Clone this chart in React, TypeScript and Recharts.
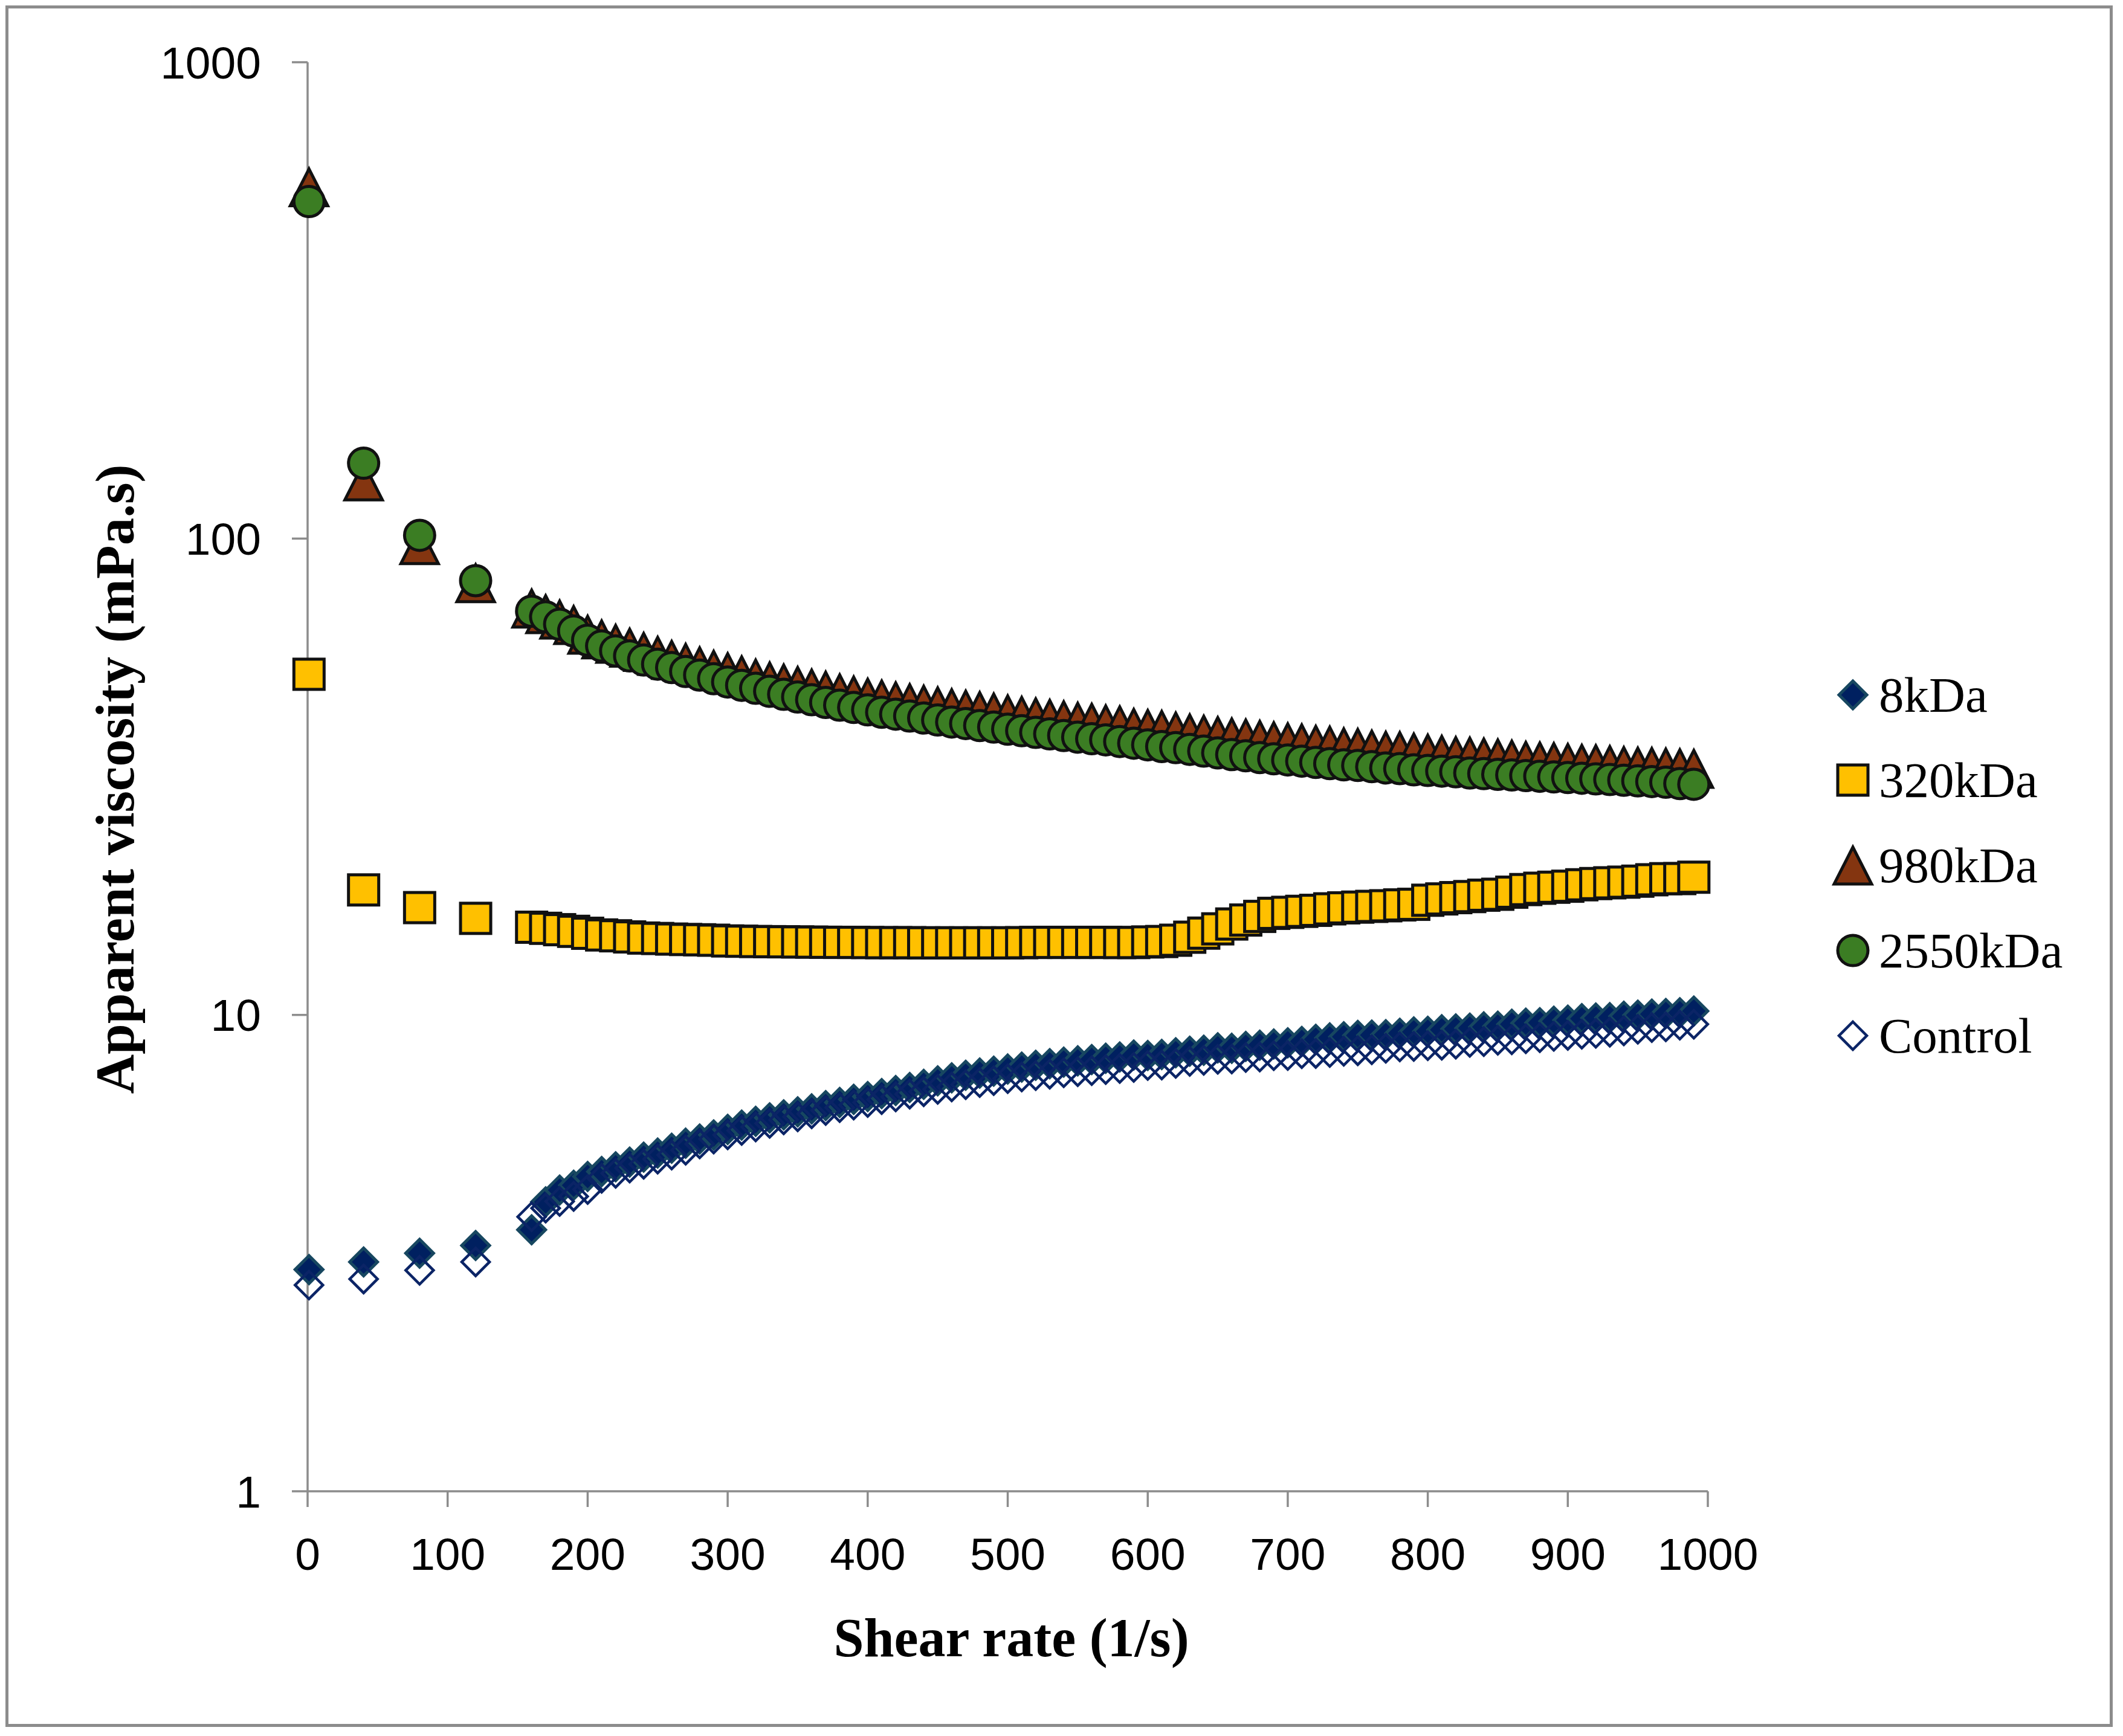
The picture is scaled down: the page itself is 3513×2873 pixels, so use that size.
import React from "react";
import { ScatterChart, Scatter, XAxis, YAxis, Label } from "recharts";

// shear rate (1/s) at which every series was sampled
const shearRate = [
  1, 40, 80, 120,
  160, 170, 180, 190, 200, 210, 220, 230, 240, 250,
  260, 270, 280, 290, 300, 310, 320, 330, 340, 350,
  360, 370, 380, 390, 400, 410, 420, 430, 440, 450,
  460, 470, 480, 490, 500, 510, 520, 530, 540, 550,
  560, 570, 580, 590, 600, 610, 620, 630, 640, 650,
  660, 670, 680, 690, 700, 710, 720, 730, 740, 750,
  760, 770, 780, 790, 800, 810, 820, 830, 840, 850,
  860, 870, 880, 890, 900, 910, 920, 930, 940, 950,
  960, 970, 980, 990,
];

// apparent viscosity (mPa.s)
const visc8kDa = [
  2.92, 3.03, 3.16, 3.28,
  3.54, 4.05, 4.29, 4.39, 4.58, 4.69, 4.8, 4.91, 5.03, 5.13,
  5.25, 5.38, 5.49, 5.6, 5.75, 5.87, 5.98, 6.08, 6.17, 6.26,
  6.35, 6.45, 6.55, 6.65, 6.74, 6.84, 6.94, 7.04, 7.15, 7.27,
  7.38, 7.47, 7.55, 7.62, 7.7, 7.77, 7.84, 7.9, 7.96, 8.01,
  8.06, 8.11, 8.16, 8.24, 8.22, 8.26, 8.33, 8.39, 8.43, 8.53,
  8.51, 8.59, 8.64, 8.69, 8.74, 8.8, 8.89, 8.95, 9.0, 9.06,
  9.07, 9.09, 9.15, 9.21, 9.24, 9.31, 9.35, 9.38, 9.44, 9.47,
  9.56, 9.61, 9.63, 9.7, 9.75, 9.82, 9.85, 9.87, 9.94, 9.99,
  10.04, 10.07, 10.11, 10.19,
];

const visc320kDa = [
  51.9, 18.3, 16.8, 15.95,
  15.28, 15.2, 15.1, 14.98, 14.84, 14.72, 14.66, 14.58, 14.5, 14.47,
  14.43, 14.4, 14.38, 14.35, 14.3, 14.28, 14.26, 14.25, 14.24, 14.23,
  14.22, 14.21, 14.2, 14.2, 14.19, 14.18, 14.18, 14.18, 14.17, 14.17,
  14.17, 14.17, 14.17, 14.17, 14.17, 14.18, 14.2, 14.2, 14.2, 14.2,
  14.2, 14.2, 14.19, 14.19, 14.23, 14.26, 14.35, 14.56, 14.85, 15.16,
  15.52, 15.82, 16.1, 16.34, 16.42, 16.5, 16.58, 16.7, 16.78, 16.84,
  16.9, 16.95, 17.02, 17.07, 17.41, 17.52, 17.63, 17.72, 17.84, 17.92,
  18.1, 18.33, 18.45, 18.54, 18.63, 18.76, 18.87, 18.94, 19.0, 19.09,
  19.22, 19.32, 19.33, 19.46,
];

const visc980kDa = [
  547, 132, 97, 80.7,
  71.4, 69.5, 67.7, 65.9, 62.9, 61.5, 60.2, 59.1, 57.9, 56.8,
  55.7, 54.9, 54.0, 53.1, 52.5, 51.7, 50.9, 50.2, 49.7, 49.1,
  48.5, 48.0, 47.4, 46.9, 46.4, 46.0, 45.6, 45.2, 44.85, 44.5,
  44.1, 43.8, 43.5, 43.2, 42.8, 42.5, 42.2, 41.9, 41.6, 41.3,
  41.1, 40.8, 40.6, 40.1, 39.9, 39.7, 39.4, 39.05, 38.8, 38.55,
  38.3, 38.1, 37.85, 37.6, 37.4, 37.2, 36.95, 36.8, 36.5, 36.4,
  36.1, 35.9, 35.85, 35.6, 35.4, 35.2, 35.0, 34.9, 34.75, 34.6,
  34.4, 34.2, 34.1, 34.0, 33.85, 33.7, 33.65, 33.5, 33.35, 33.25,
  33.2, 33.1, 33.0, 32.9,
];

const visc2550kDa = [
  510, 144, 101.6, 81.6,
  70.4, 68.5, 66.1, 64.0, 61.2, 59.5, 58.1, 56.7, 55.6, 54.5,
  53.6, 52.6, 51.7, 50.8, 50.0, 49.2, 48.5, 47.8, 47.1, 46.5,
  45.9, 45.3, 44.7, 44.2, 43.7, 43.2, 42.8, 42.4, 42.0, 41.6,
  41.2, 40.9, 40.5, 40.2, 39.8, 39.5, 39.2, 38.9, 38.6, 38.3,
  38.0, 37.8, 37.5, 37.2, 36.9, 36.6, 36.4, 36.1, 35.8, 35.5,
  35.2, 35.0, 34.7, 34.5, 34.3, 34.1, 33.9, 33.7, 33.5, 33.4,
  33.2, 33.0, 32.9, 32.7, 32.6, 32.5, 32.4, 32.2, 32.1, 32.0,
  31.9, 31.8, 31.7, 31.6, 31.5, 31.4, 31.3, 31.2, 31.1, 31.0,
  30.9, 30.8, 30.6, 30.5,
];

const viscControl = [
  2.71, 2.79, 2.91, 3.03,
  3.77, 3.93, 4.06, 4.16, 4.3, 4.54, 4.65, 4.77, 4.86, 4.98,
  5.08, 5.2, 5.36, 5.49, 5.6, 5.72, 5.82, 5.92, 6.02, 6.11,
  6.2, 6.3, 6.39, 6.47, 6.55, 6.64, 6.73, 6.82, 6.9, 6.98,
  7.06, 7.14, 7.21, 7.28, 7.35, 7.41, 7.46, 7.51, 7.56, 7.6,
  7.64, 7.68, 7.72, 7.76, 7.83, 7.85, 7.91, 7.99, 8.03, 8.07,
  8.08, 8.14, 8.16, 8.21, 8.22, 8.29, 8.3, 8.34, 8.39, 8.41,
  8.45, 8.51, 8.57, 8.59, 8.62, 8.64, 8.68, 8.76, 8.79, 8.85,
  8.87, 8.91, 8.96, 9.02, 9.06, 9.11, 9.15, 9.2, 9.26, 9.33,
  9.41, 9.44, 9.52, 9.56,
];

const xTicks = [0, 100, 200, 300, 400, 500, 600, 700, 800, 900, 1000];
const yTicks = [1, 10, 100, 1000];

const W = 3497;
const H = 2857;
const AXIS = "#8c8c8c";
const SANS = "'Liberation Sans', Arial, sans-serif";
const SERIF = "'Liberation Serif', 'Times New Roman', serif";

const toPoints = (ys: number[]) => shearRate.map((x, i) => ({ x, y: ys[i] }));

type MarkProps = { cx: number; cy: number };

const FilledDiamond = ({ cx, cy }: MarkProps) => (
  <path
    d={`M${cx},${cy - 23}L${cx + 23},${cy}L${cx},${cy + 23}L${cx - 23},${cy}Z`}
    fill="#002060"
    stroke="#174760"
    strokeWidth={5}
  />
);

const OpenDiamond = ({ cx, cy }: MarkProps) => (
  <path
    d={`M${cx},${cy - 23}L${cx + 23},${cy}L${cx},${cy + 23}L${cx - 23},${cy}Z`}
    fill="none"
    stroke="#0b2466"
    strokeWidth={4.5}
  />
);

const Square = ({ cx, cy }: MarkProps) => (
  <rect x={cx - 25} y={cy - 25} width={50} height={50} fill="#ffc000" stroke="#111" strokeWidth={5} />
);

const Triangle = ({ cx, cy }: MarkProps) => (
  <path
    d={`M${cx},${cy - 30}L${cx + 31},${cy + 31}L${cx - 31},${cy + 31}Z`}
    fill="#843510"
    stroke="#111"
    strokeWidth={5}
  />
);

const Circle = ({ cx, cy }: MarkProps) => (
  <circle cx={cx} cy={cy} r={25} fill="#3b7d23" stroke="#111" strokeWidth={5} />
);

const SERIES = [
  { name: "8kDa", values: visc8kDa, Mark: FilledDiamond },
  { name: "320kDa", values: visc320kDa, Mark: Square },
  { name: "980kDa", values: visc980kDa, Mark: Triangle },
  { name: "2550kDa", values: visc2550kDa, Mark: Circle },
  { name: "Control", values: viscControl, Mark: OpenDiamond },
];

export default function App() {
  return (
    <div style={{ position: "relative", width: W, height: H }}>
      {/* outer frame */}
      <div
        style={{
          position: "absolute",
          left: 1,
          top: 1,
          width: 3487,
          height: 2849,
          boxSizing: "border-box",
          border: `5px solid ${AXIS}`,
        }}
      />
      <ScatterChart width={W} height={H} margin={{ top: 95, right: 679, bottom: 0, left: 0 }}>
        <XAxis
          type="number"
          dataKey="x"
          domain={[0, 1000]}
          ticks={xTicks}
          height={397}
          axisLine={{ stroke: AXIS, strokeWidth: 3.5 }}
          tickLine={{ stroke: AXIS, strokeWidth: 3.5 }}
          tickSize={26}
          tickMargin={51}
          tick={{ fill: "#000", fontSize: 75, fontFamily: SANS }}
        >
          <Label
            content={({ viewBox }: any) => (
              <text
                x={viewBox.x + viewBox.width / 2 + 6}
                y={viewBox.y + 242}
                textAnchor="middle"
                dominantBaseline="central"
                fontFamily={SERIF}
                fontWeight="bold"
                fontSize={90}
                fill="#000"
              >
                Shear rate (1/s)
              </text>
            )}
          />
        </XAxis>
        <YAxis
          type="number"
          dataKey="y"
          scale="log"
          domain={[1, 1000]}
          ticks={yTicks}
          allowDataOverflow
          width={501}
          axisLine={{ stroke: AXIS, strokeWidth: 3.5 }}
          tickLine={{ stroke: AXIS, strokeWidth: 3.5 }}
          tickSize={26}
          tickMargin={51}
          tick={{ fill: "#000", fontSize: 75, fontFamily: SANS }}
        >
          <Label
            content={({ viewBox }: any) => {
              const cy = viewBox.y + viewBox.height / 2 + 4;
              return (
                <text
                  x={182}
                  y={cy}
                  transform={`rotate(-90 182 ${cy})`}
                  textAnchor="middle"
                  dominantBaseline="central"
                  fontFamily={SERIF}
                  fontWeight="bold"
                  fontSize={91}
                  fill="#000"
                >
                  Apparent viscosity (mPa.s)
                </text>
              );
            }}
          />
        </YAxis>
        {SERIES.map(({ name, values, Mark }) => (
          <Scatter
            key={name}
            name={name}
            data={toPoints(values)}
            shape={(p: any) => <Mark cx={p.cx} cy={p.cy} />}
            isAnimationActive={false}
          />
        ))}
      </ScatterChart>
      {/* legend */}
      {SERIES.map(({ name, Mark }, i) => {
        const rowY = 1142 + i * 141;
        return (
          <React.Fragment key={name}>
            <svg
              width={80}
              height={80}
              style={{ position: "absolute", left: 3058 - 40, top: rowY - 40, overflow: "visible" }}
            >
              <Mark cx={40} cy={40} />
            </svg>
            <div
              style={{
                position: "absolute",
                left: 3101,
                top: rowY - 50,
                height: 100,
                lineHeight: "100px",
                fontFamily: SERIF,
                fontSize: 83,
                color: "#000",
                whiteSpace: "nowrap",
              }}
            >
              {name}
            </div>
          </React.Fragment>
        );
      })}
    </div>
  );
}
